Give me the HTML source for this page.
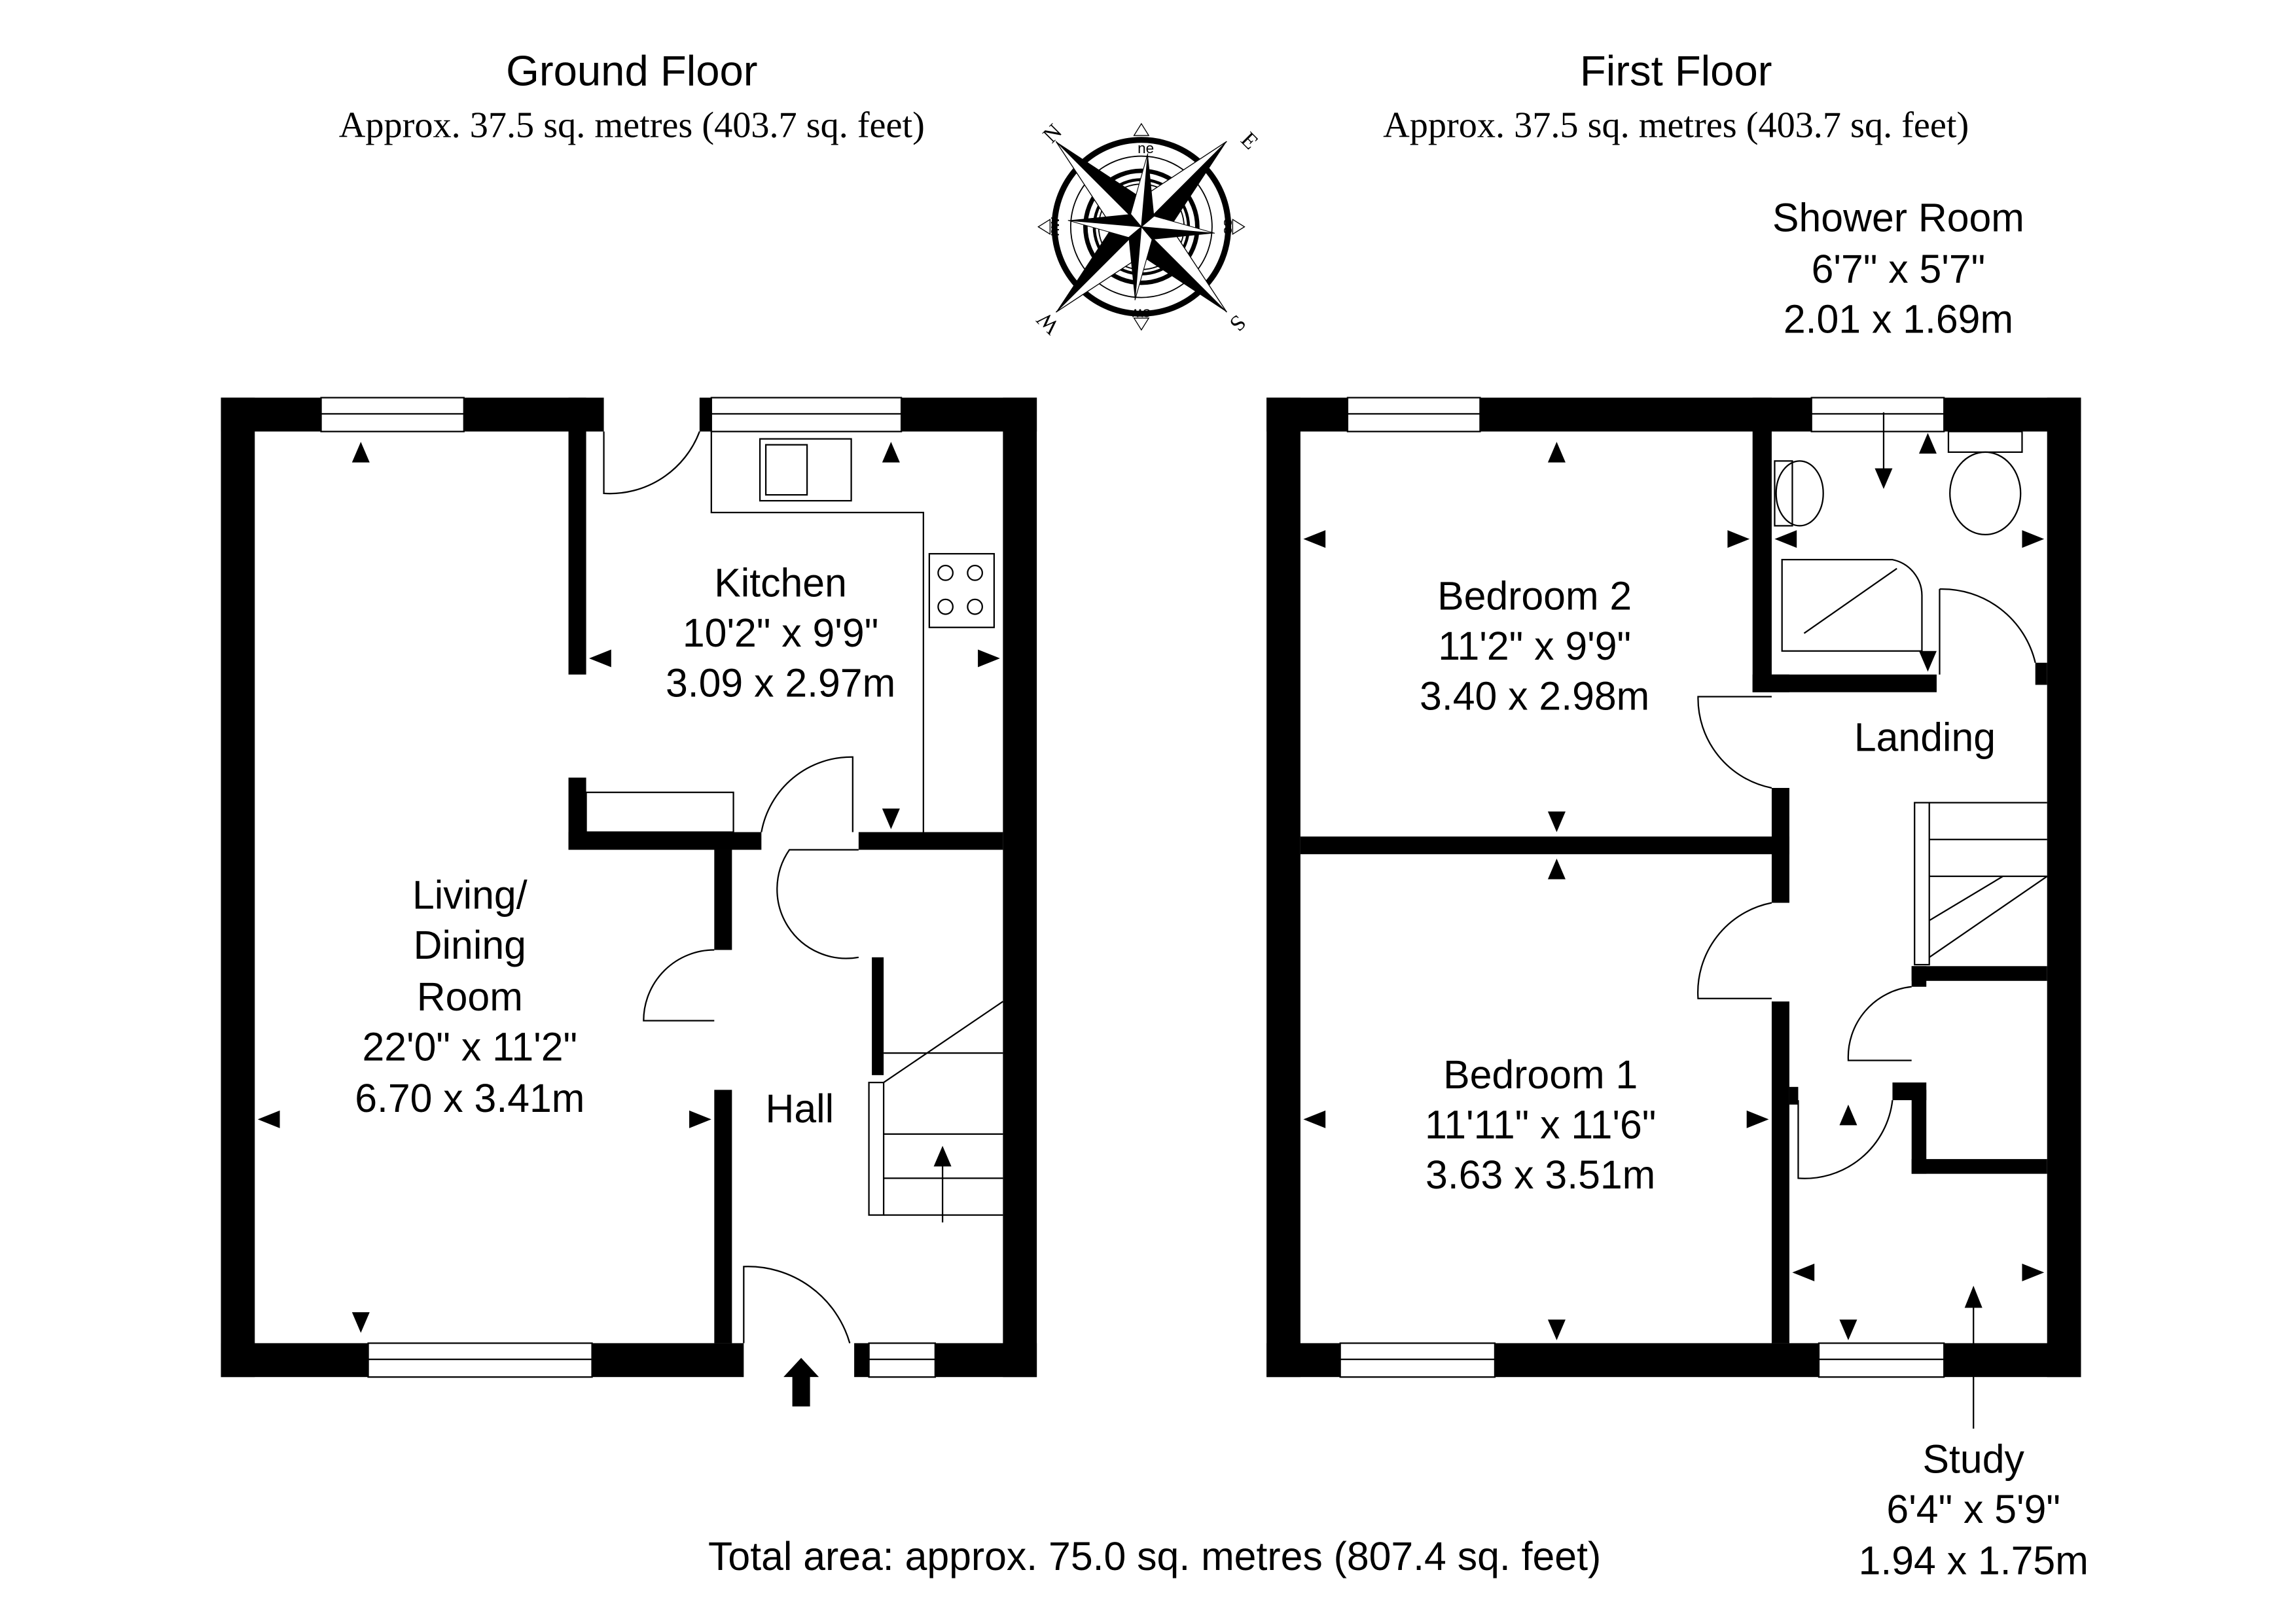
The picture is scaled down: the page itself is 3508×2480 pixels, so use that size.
<!DOCTYPE html>
<html><head><meta charset="utf-8"><style>
html,body{margin:0;padding:0;background:#fff}
svg{display:block}
text{font-family:"Liberation Sans",sans-serif;fill:#000}
.s{font-family:"Liberation Serif",serif}
</style></head><body>
<svg width="3508" height="2480" viewBox="0 0 1559 1102" preserveAspectRatio="none" xmlns="http://www.w3.org/2000/svg">
<rect width="1559" height="1102" fill="#fff"/>
<text x="429" y="58" font-size="29" text-anchor="middle">Ground Floor</text>
<text x="429" y="93" font-size="25" text-anchor="middle" class="s">Approx. 37.5 sq. metres (403.7 sq. feet)</text>
<text x="1138" y="58" font-size="29" text-anchor="middle">First Floor</text>
<text x="1138" y="93" font-size="25" text-anchor="middle" class="s">Approx. 37.5 sq. metres (403.7 sq. feet)</text>
<text x="1289" y="157" font-size="27" text-anchor="middle">Shower Room</text>
<text x="1289" y="192" font-size="27" text-anchor="middle">6'7" x 5'7"</text>
<text x="1289" y="226" font-size="27" text-anchor="middle">2.01 x 1.69m</text>
<text x="1340" y="1000" font-size="27" text-anchor="middle">Study</text>
<text x="1340" y="1034" font-size="27" text-anchor="middle">6'4" x 5'9"</text>
<text x="1340" y="1069" font-size="27" text-anchor="middle">1.94 x 1.75m</text>
<text x="784" y="1066" font-size="27" text-anchor="middle">Total area: approx. 75.0 sq. metres (807.4 sq. feet)</text>

<g transform="translate(775,154)">
<circle r="59" fill="none" stroke="#000" stroke-width="4"/>
<circle r="48" fill="none" stroke="#000" stroke-width="0.8"/>
<circle r="38" fill="none" stroke="#000" stroke-width="3"/>
<circle r="32" fill="none" stroke="#000" stroke-width="2"/>
<circle r="29" fill="none" stroke="#000" stroke-width="0.8"/>
<g stroke="#000" stroke-width=".6">
<polygon points="0,-70 -5,-62 5,-62" fill="#fff"/><polygon points="0,70 -5,62 5,62" fill="#fff"/>
<polygon points="-70,0 -62,-5 -62,5" fill="#fff"/><polygon points="70,0 62,-5 62,5" fill="#fff"/>
</g>
<g transform="rotate(-45)">
<polygon points="0,-82 14,-14 0,0" fill="#000"/><polygon points="0,-82 -14,-14 0,0" fill="#fff" stroke="#000" stroke-width=".6"/>
<polygon points="82,0 14,14 0,0" fill="#000"/><polygon points="82,0 14,-14 0,0" fill="#fff" stroke="#000" stroke-width=".6"/>
<polygon points="0,82 -14,14 0,0" fill="#000"/><polygon points="0,82 14,14 0,0" fill="#fff" stroke="#000" stroke-width=".6"/>
<polygon points="-82,0 -14,-14 0,0" fill="#000"/><polygon points="-82,0 -14,14 0,0" fill="#fff" stroke="#000" stroke-width=".6"/>
</g>
<g transform="rotate(5)">
<polygon points="0,-50 8,-8 0,0" fill="#000"/><polygon points="0,-50 -8,-8 0,0" fill="#fff" stroke="#000" stroke-width=".5"/>
<polygon points="50,0 8,8 0,0" fill="#000"/><polygon points="50,0 8,-8 0,0" fill="#fff" stroke="#000" stroke-width=".5"/>
<polygon points="0,50 -8,8 0,0" fill="#000"/><polygon points="0,50 8,8 0,0" fill="#fff" stroke="#000" stroke-width=".5"/>
<polygon points="-50,0 -8,-8 0,0" fill="#000"/><polygon points="-50,0 -8,8 0,0" fill="#fff" stroke="#000" stroke-width=".5"/>
</g>
<text x="3" y="-50" font-size="10" text-anchor="middle">ne</text>
<text x="-56" y="0" font-size="10" text-anchor="middle" transform="rotate(-90 -56 0)">nw</text>
<text x="56" y="0" font-size="10" text-anchor="middle" transform="rotate(90 56 0)">se</text>
<text x="0" y="56" font-size="10" text-anchor="middle" transform="rotate(180 0 56)">sw</text>
<text x="-57" y="-60" font-size="15" class="s" transform="rotate(-45 -57 -60)" text-anchor="middle">N</text>
<text x="70" y="-55" font-size="15" class="s" transform="rotate(45 70 -55)" text-anchor="middle">E</text>
<text x="-60" y="62" font-size="15" class="s" transform="rotate(-135 -60 62)" text-anchor="middle">W</text>
<text x="62" y="62" font-size="15" class="s" transform="rotate(135 62 62)" text-anchor="middle">S</text>
</g>

<g fill="#000">
<rect x="150" y="270" width="23" height="665"/>
<rect x="681" y="270" width="23" height="665"/>
<rect x="150" y="270" width="68" height="23"/>
<rect x="315" y="270" width="95" height="23"/>
<rect x="475" y="270" width="8" height="23"/>
<rect x="612" y="270" width="92" height="23"/>
<rect x="150" y="912" width="100" height="23"/>
<rect x="402" y="912" width="103" height="23"/>
<rect x="580" y="912" width="10" height="23"/>
<rect x="635" y="912" width="69" height="23"/>
<rect x="386" y="270" width="12" height="188"/>
<rect x="386" y="528" width="12" height="49"/>
<rect x="386" y="565" width="131" height="12"/>
<rect x="583" y="565" width="98" height="12"/>
<rect x="485" y="577" width="12" height="68"/>
<rect x="485" y="740" width="12" height="172"/>
<rect x="592" y="650" width="8" height="80"/>
<rect x="860" y="270" width="23" height="665"/>
<rect x="1390" y="270" width="23" height="665"/>
<rect x="860" y="270" width="55" height="23"/>
<rect x="1005" y="270" width="225" height="23"/>
<rect x="1320" y="270" width="93" height="23"/>
<rect x="860" y="912" width="50" height="23"/>
<rect x="1015" y="912" width="220" height="23"/>
<rect x="1320" y="912" width="93" height="23"/>
<rect x="883" y="568" width="332" height="12"/>
<rect x="1190" y="270" width="13" height="200"/>
<rect x="1190" y="458" width="125" height="12"/>
<rect x="1203" y="458" width="12" height="12"/>
<rect x="1203" y="535" width="12" height="78"/>
<rect x="1203" y="680" width="12" height="232"/>
<rect x="1382" y="450" width="8" height="15"/>
<rect x="1298" y="656" width="92" height="10"/>
<rect x="1298" y="656" width="10" height="14"/>
<rect x="1298" y="740" width="10" height="57"/>
<rect x="1285" y="735" width="23" height="12"/>
<rect x="1298" y="787" width="92" height="10"/>
<rect x="1215" y="738" width="6" height="12"/>
<polygon points="544,922 556,935 550,935 550,955 538,955 538,935 532,935"/>
</g>

<g fill="none" stroke="#000" stroke-width="1">
<rect x="218" y="270" width="97" height="23"/><line x1="218" y1="281" x2="315" y2="281"/>
<rect x="483" y="270" width="129" height="23"/><line x1="483" y1="281" x2="612" y2="281"/>
<rect x="250" y="912" width="152" height="23"/><line x1="250" y1="923" x2="402" y2="923"/>
<rect x="590" y="912" width="45" height="23"/><line x1="590" y1="923" x2="635" y2="923"/>
<rect x="915" y="270" width="90" height="23"/><line x1="915" y1="281" x2="1005" y2="281"/>
<rect x="1230" y="270" width="90" height="23"/><line x1="1230" y1="281" x2="1320" y2="281"/>
<rect x="910" y="912" width="105" height="23"/><line x1="910" y1="923" x2="1015" y2="923"/>
<rect x="1235" y="912" width="85" height="23"/><line x1="1235" y1="923" x2="1320" y2="923"/>
<polyline points="483,293 483,348 627,348 627,565"/>
<rect x="516" y="298" width="62" height="42"/><rect x="520" y="302" width="28" height="34"/>
<rect x="631" y="376" width="44" height="50"/>
<circle cx="642" cy="389" r="5"/><circle cx="662" cy="389" r="5"/><circle cx="642" cy="412" r="5"/><circle cx="662" cy="412" r="5"/>
<rect x="398" y="538" width="100" height="27"/>
<path d="M410,293 V335 A65,65 0 0 0 475,293"/>
<path d="M517,565 A62,62 0 0 1 579,514 V565"/>
<path d="M583,577 H536 A47,47 0 0 0 583,650"/>
<path d="M485,645 A48,48 0 0 0 437,693 H485"/>
<path d="M505,912 V860 A72,72 0 0 1 577,912"/>
<path d="M1203,473 H1153 A62,62 0 0 0 1203,535"/>
<path d="M1203,613 A62,62 0 0 0 1153,678 H1203"/>
<path d="M1298,670 A48,48 0 0 0 1255,720 H1298"/>
<path d="M1221,747 V800 A60,60 0 0 0 1285,747"/>
<path d="M1317,400 V458 M1317,400 A65,65 0 0 1 1382,450"/>
<rect x="590" y="735" width="10" height="90"/>
<path d="M600,735 L681,680 M600,825 L681,825 M600,715 H681 M600,770 H681 M600,800 H681"/>
<line x1="640" y1="830" x2="640" y2="790"/>
<rect x="1300" y="545" width="10" height="110"/>
<path d="M1310,545 H1390 M1310,570 H1390 M1310,595 H1390 M1310,650 L1390,595 M1310,625 L1360,595"/>
<ellipse cx="1222" cy="335" rx="16" ry="22"/>
<rect x="1205" y="313" width="12" height="44"/>
<rect x="1323" y="293" width="50" height="14"/>
<ellipse cx="1348" cy="335" rx="24" ry="28"/>
<path d="M1210,380 H1285 A25,25 0 0 1 1305,405 V442 H1210 Z"/>
<line x1="1225" y1="430" x2="1288" y2="386"/>
<line x1="1340" y1="880" x2="1340" y2="970"/>
<line x1="1279" y1="280" x2="1279" y2="320"/>
</g>

<g fill="#000">
<polygon points="245,300 239,314 251,314"/><polygon points="245,905 239,891 251,891"/>
<polygon points="175,760 190,754 190,766"/><polygon points="483,760 468,754 468,766"/>
<polygon points="400,447 415,441 415,453"/><polygon points="679,447 664,441 664,453"/>
<polygon points="605,300 599,314 611,314"/><polygon points="605,563 599,549 611,549"/>
<polygon points="1057,300 1051,314 1063,314"/><polygon points="1057,565 1051,551 1063,551"/>
<polygon points="885,366 900,360 900,372"/><polygon points="1188,366 1173,360 1173,372"/>
<polygon points="1057,583 1051,597 1063,597"/><polygon points="1057,910 1051,896 1063,896"/>
<polygon points="885,760 900,754 900,766"/><polygon points="1201,760 1186,754 1186,766"/>
<polygon points="1205,366 1220,360 1220,372"/><polygon points="1388,366 1373,360 1373,372"/>
<polygon points="1309,294 1303,308 1315,308"/><polygon points="1309,456 1303,442 1315,442"/>
<polygon points="1279,332 1273,318 1285,318"/>
<polygon points="1217,864 1232,858 1232,870"/><polygon points="1388,864 1373,858 1373,870"/>
<polygon points="1255,750 1249,764 1261,764"/><polygon points="1255,910 1249,896 1261,896"/>
<polygon points="1340,873 1334,888 1346,888"/>
<polygon points="640,778 634,792 646,792"/>
</g>

<g font-size="27" text-anchor="middle">
<text x="530" y="405">Kitchen</text><text x="530" y="439">10'2" x 9'9"</text><text x="530" y="473">3.09 x 2.97m</text>
<text x="319" y="617">Living/</text><text x="319" y="651">Dining</text><text x="319" y="686">Room</text>
<text x="319" y="720">22'0" x 11'2"</text><text x="319" y="755">6.70 x 3.41m</text>
<text x="543" y="762">Hall</text>
<text x="1042" y="414">Bedroom 2</text><text x="1042" y="448">11'2" x 9'9"</text><text x="1042" y="482">3.40 x 2.98m</text>
<text x="1307" y="510">Landing</text>
<text x="1046" y="739">Bedroom 1</text><text x="1046" y="773">11'11" x 11'6"</text><text x="1046" y="807">3.63 x 3.51m</text>
</g>
</svg>
</body></html>
